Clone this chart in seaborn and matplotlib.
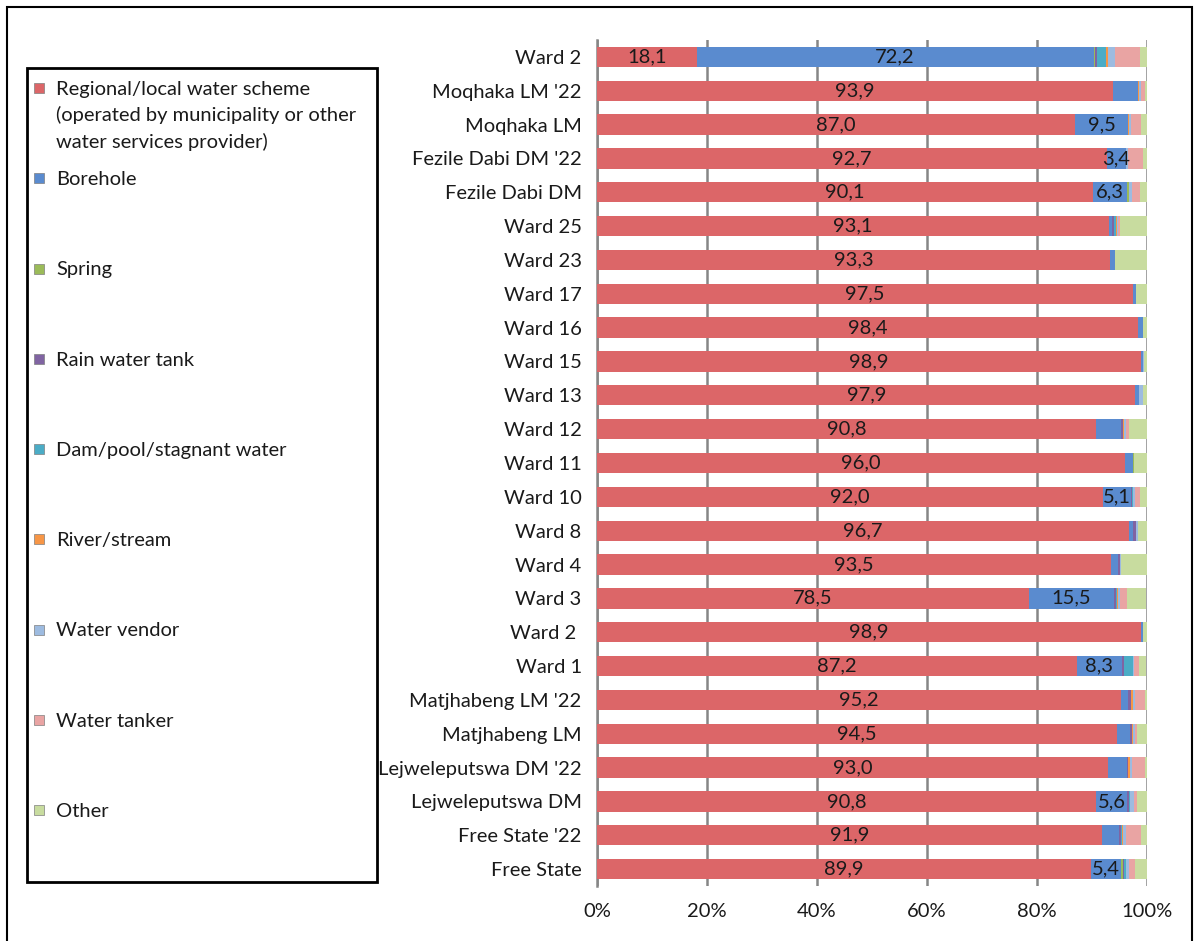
import numpy as np
import pandas as pd
import matplotlib.pyplot as plt
import seaborn as sns
from matplotlib.patches import Rectangle

# categories, top to bottom
areas = ['Ward 2', "Moqhaka LM '22", 'Moqhaka LM', "Fezile Dabi DM '22", 'Fezile Dabi DM',
         'Ward 25', 'Ward 23', 'Ward 17', 'Ward 16', 'Ward 15', 'Ward 13', 'Ward 12',
         'Ward 11', 'Ward 10', 'Ward 8', 'Ward 4', 'Ward 3', 'Ward 2 ', 'Ward 1',
         "Matjhabeng LM '22", 'Matjhabeng LM', "Lejweleputswa DM '22", 'Lejweleputswa DM',
         "Free State '22", 'Free State']

sources = ['Regional/local water scheme\n(operated by municipality or other\nwater services provider)',
           'Borehole', 'Spring', 'Rain water tank', 'Dam/pool/stagnant water',
           'River/stream', 'Water vendor', 'Water tanker', 'Other']

regional = [18.1, 93.9, 87.0, 92.7, 90.1, 93.1, 93.3, 97.5, 98.4, 98.9, 97.9, 90.8, 96.0,
            92.0, 96.7, 93.5, 78.5, 98.9, 87.2, 95.2, 94.5, 93.0, 90.8, 91.9, 89.9]
borehole = [72.2, 4.4, 9.5, 3.4, 6.3, 0.6, 0.9, 0.5, 0.8, 0.3, 0.7, 4.5, 1.4,
            5.1, 0.8, 1.2, 15.5, 0.4, 8.3, 1.4, 2.4, 3.3, 5.6, 3.0, 5.4]
spring = [0.3, 0.0, 0.0, 0.0, 0.3, 0.0, 0.0, 0.0, 0.0, 0.0, 0.0, 0.0, 0.2,
          0.0, 0.0, 0.0, 0.0, 0.0, 0.0, 0.0, 0.0, 0.0, 0.0, 0.0, 0.3]
rain = [0.3, 0.0, 0.0, 0.0, 0.0, 0.3, 0.0, 0.0, 0.0, 0.0, 0.0, 0.3, 0.0,
        0.2, 0.5, 0.3, 0.3, 0.0, 0.3, 0.4, 0.3, 0.3, 0.3, 0.3, 0.3]
dam = [1.6, 0.0, 0.0, 0.0, 0.0, 0.3, 0.0, 0.0, 0.0, 0.0, 0.0, 0.0, 0.0,
       0.2, 0.0, 0.0, 0.2, 0.0, 1.6, 0.0, 0.0, 0.0, 0.3, 0.2, 0.3]
river = [0.4, 0.3, 0.3, 0.0, 0.0, 0.2, 0.0, 0.0, 0.0, 0.0, 0.0, 0.3, 0.0,
         0.0, 0.0, 0.0, 0.3, 0.0, 0.0, 0.4, 0.3, 0.3, 0.0, 0.3, 0.0]
vendor = [1.2, 0.3, 0.3, 0.5, 0.5, 0.3, 0.0, 0.0, 0.0, 0.3, 0.6, 0.3, 0.0,
          0.3, 0.4, 0.3, 0.3, 0.0, 0.3, 0.4, 0.3, 0.3, 0.6, 0.5, 0.5]
tanker = [4.7, 0.8, 1.8, 2.6, 1.6, 0.3, 0.0, 0.0, 0.0, 0.0, 0.0, 0.6, 0.0,
          1.0, 0.0, 0.0, 1.2, 0.0, 0.9, 1.9, 0.4, 2.5, 0.6, 2.8, 1.2]
other = [1.2, 0.3, 1.1, 0.8, 1.2, 5.2, 5.8, 2.0, 0.8, 0.8, 0.8, 3.5, 2.4,
         1.2, 1.6, 4.7, 3.5, 0.7, 1.2, 0.6, 2.1, 0.5, 1.9, 1.0, 2.2]

borehole_labels = ['72,2', '', '9,5', '3,4', '6,3', '', '', '', '', '', '', '', '',
                   '5,1', '', '', '15,5', '', '8,3', '', '', '', '5,6', '', '5,4']

colors = ['#DC6668', '#5A8BCF', '#9BBB59', '#8064A2', '#4BACC6',
          '#F79646', '#9DBBE0', '#E9A4A3', '#C8DC9F']

series = [regional, borehole, spring, rain, dam, river, vendor, tanker, other]
df = pd.DataFrame(dict(zip(range(len(series)), series)), index=areas)
cum = df.cumsum(axis=1)

W, H = 1197, 941
fig = plt.figure(figsize=(W / 100, H / 100), dpi=100)
plt.rcParams['font.family'] = ['Lato', 'DejaVu Sans']
ax = fig.add_axes([597 / W, 1 - 886 / H, 550 / W, 846 / H])

# stacked bars: draw cumulative totals from the last series to the first
for k in range(len(series) - 1, -1, -1):
    sns.barplot(x=cum[k].values, y=areas, orient='h', color=colors[k], saturation=1,
                width=0.6, linewidth=0, ax=ax, zorder=3)

# value labels
ypos = np.arange(len(areas))
for i in ypos:
    ax.text(regional[i] / 2, i, f'{regional[i]:.1f}'.replace('.', ','),
            ha='center', va='center', fontsize=14.5, color='#1a1a1a', zorder=5)
    if borehole_labels[i]:
        ax.text(regional[i] + borehole[i] / 2, i, borehole_labels[i],
                ha='center', va='center', fontsize=14.5, color='#1a1a1a', zorder=5)

ax.set_xlim(0, 100)
ax.set_ylim(len(areas) - 0.5, -0.5)
ax.set_xticks(np.arange(0, 101, 20))
ax.set_xticklabels([f'{t}%' for t in range(0, 101, 20)])
ax.grid(axis='x', color='#868686', linewidth=1.8, zorder=0)
ax.set_axisbelow(True)
ax.tick_params(axis='both', length=0, labelsize=14.5, colors='#1a1a1a')
ax.tick_params(axis='y', pad=11)
ax.tick_params(axis='x', pad=12)
ax.set_xlabel('')
ax.set_ylabel('')
for s in ['top', 'right', 'bottom']:
    ax.spines[s].set_visible(False)
ax.spines['left'].set_color('#868686')
ax.spines['left'].set_linewidth(1.8)

# legend drawn in its own box on the left
fig.patches.append(Rectangle((27 / W, 1 - 882 / H), 350 / W, 814 / H, transform=fig.transFigure,
                             fill=False, edgecolor='black', linewidth=2))
for i, (lab, c) in enumerate(zip(sources, colors)):
    yc = 88 + 90.25 * i
    fig.patches.append(Rectangle((34 / W, 1 - (yc + 5) / H), 10 / W, 10 / H,
                                 transform=fig.transFigure, facecolor=c,
                                 edgecolor='#7f7f7f', linewidth=0.5))
    fig.text(56 / W, 1 - (yc - 7) / H, lab, ha='left', va='top', fontsize=14.5,
             color='#1a1a1a', linespacing=1.55)

# outer frame
fig.patches.append(Rectangle((7 / W, -0.01), 1185 / W, 1 - 7 / H + 0.01, transform=fig.transFigure,
                             fill=False, edgecolor='black', linewidth=1.5))

fig.savefig('out.png', dpi=100)
